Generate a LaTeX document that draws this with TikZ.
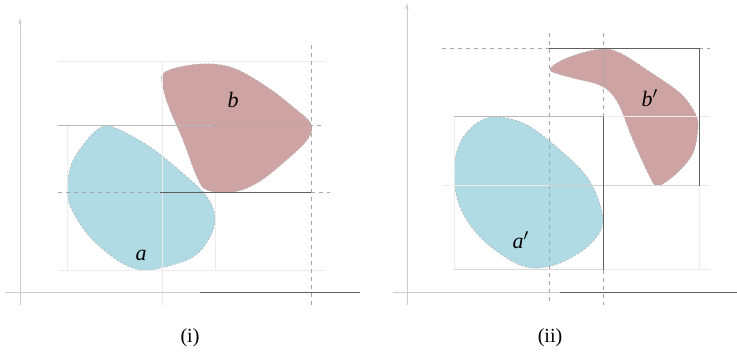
\documentclass[tikz,border=0pt]{standalone}
\usepackage{fontspec}
\setmainfont{Liberation Serif}
\usepackage{tikz}
\usepackage{xcolor}

\definecolor{shapeblue}{RGB}{176,218,228}
\definecolor{shapepink}{RGB}{206,163,163}

\tikzset{
  faint/.style={draw=gray!15, line width=0.5pt},
  guide/.style={draw=gray!55, line width=0.5pt},
  frame/.style={draw=gray!75!black, line width=0.5pt},
  dashguide/.style={draw=gray!70, dashed, dash pattern=on 2pt off 2pt, line width=0.5pt},
  axis/.style={draw=gray!40, line width=0.5pt},
  blobblue/.style={fill=shapeblue, draw=gray!60, dash pattern=on 1pt off 1pt, line width=0.3pt},
  blobpink/.style={fill=shapepink, draw=gray!60, dash pattern=on 1pt off 1pt, line width=0.3pt},
  lbl/.style={font=\fontsize{11}{13}\selectfont}
}

\begin{document}
\begin{tikzpicture}[x=0.5pt, y=-0.5pt]
\useasboundingbox (0,0) rectangle (737,356);

% ---------- panel (i) ----------
% shapes
\draw[blobblue] plot[smooth cycle, tension=0.6] coordinates {
  (113,127) (150,147) (187,177) (207,197) (215,217) (210,237) (193,257)
  (160,268) (140,270) (117,260) (90,237) (72,210) (67,190) (72,163) (87,140) (100,128)};
\draw[blobpink] plot[smooth cycle, tension=0.6] coordinates {
  (165,72) (200,64) (233,68) (267,87) (293,107) (311,124) (307,140) (283,163)
  (257,183) (233,192) (207,190) (197,177) (183,140) (170,110) (163,87)};

% faint grid
\draw[faint] (58,62) -- (325,62);
\draw[faint] (58,271) -- (325,271);
\draw[faint] (67,126) -- (67,271);
\draw[faint] (162,62) -- (162,305);
\draw[faint] (215,193) -- (215,271);

% guide lines
\draw[guide] (58,126) -- (213,126);
\draw[dashguide] (213,126) -- (325,126);
\draw[dashguide] (58,193) -- (160,193);
\draw[frame] (160,193) -- (311,193);
\draw[dashguide] (311,193) -- (330,193);
\draw[dashguide] (311,45) -- (311,305);

% axes
\draw[axis] (20,22) -- (20,305);
\draw[axis] (19,24) -- (20,20) -- (21,24);
\draw[axis] (5,293) -- (200,293);
\draw[draw=gray!75!black, line width=0.5pt] (200,293) -- (360,293);

% labels
\node[lbl] (la) at (141,255) {\textit{a}};
\node[lbl] (lb) at (233,100) {\textit{b}};
\node (capi) at (190,338) {(i)};

% ---------- panel (ii) ----------
% shapes
\draw[blobblue] plot[smooth cycle, tension=0.6] coordinates {
  (497,117) (527,125) (560,150) (587,177) (600,205) (602,227) (587,247)
  (560,263) (533,268) (510,260) (480,237) (460,207) (454,173) (460,143) (477,123)};
\draw[blobpink] plot[smooth cycle, tension=0.55] coordinates {
  (550,70) (567,58) (600,49) (620,53) (647,70) (680,93) (695,113) (698,127)
  (693,153) (677,173) (658,186) (650,177) (633,140) (620,107) (610,92)
  (597,84) (573,78)};

% faint grid
\draw[faint] (442,186) -- (710,186);
\draw[faint] (603,270) -- (710,270);
\draw[faint] (603,117) -- (710,117);
\draw[faint] (454,117) -- (454,270);
\draw[faint] (699,186) -- (699,270);

% guide lines
\draw[dashguide] (442,49) -- (549,49);
\draw[dashguide] (699,49) -- (710,49);
\draw[dashguide] (549,33) -- (549,305);
\draw[dashguide] (603,33) -- (603,117);
\draw[dashguide] (603,270) -- (603,305);
\draw[frame] (549,49) -- (699,49) -- (699,186);
\draw[draw=gray!35, line width=0.5pt] (549,186) -- (699,186);
\draw[guide] (454,117) -- (603,117);
\draw[frame] (603,117) -- (603,270);
\draw[draw=gray!30, line width=0.5pt] (454,270) -- (603,270);

% axes
\draw[axis] (407,7) -- (407,305);
\draw[axis] (406,9) -- (407,5) -- (408,9);
\draw[axis] (393,293) -- (560,293);
\draw[draw=gray!75!black, line width=0.5pt] (560,293) -- (737,293);

% labels
\node[lbl] (lap) at (521,240) {\textit{a}$'$};
\node[lbl] (lbp) at (650,98) {\textit{b}$'$};
\node (capii) at (550,338) {(ii)};
\end{tikzpicture}
\end{document}
